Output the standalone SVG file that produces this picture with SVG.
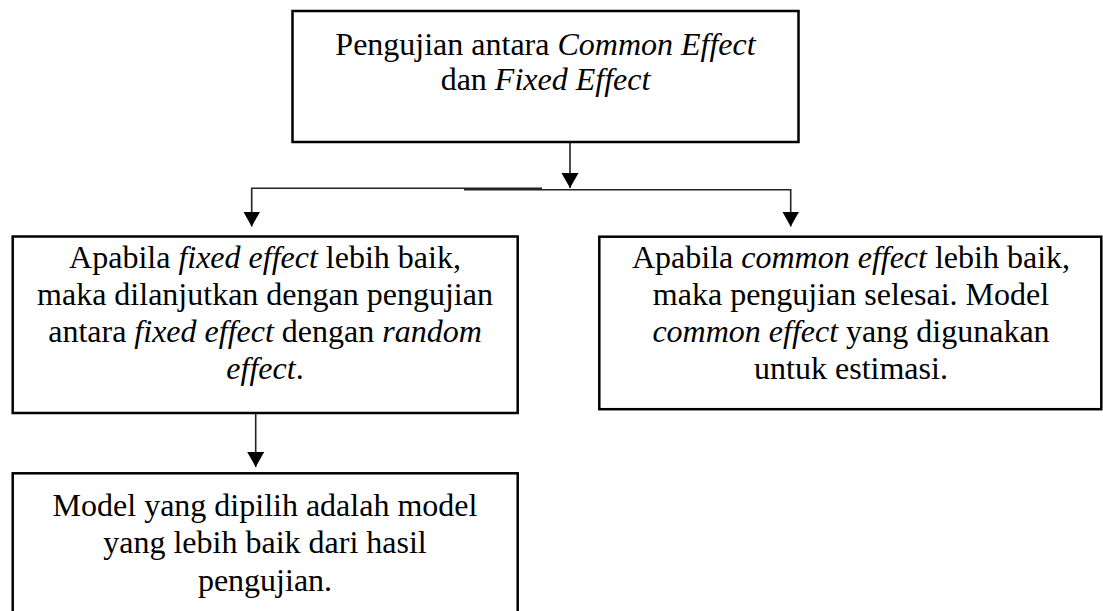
<svg xmlns="http://www.w3.org/2000/svg" width="1103" height="611" viewBox="0 0 1103 611">
<style>
.box{fill:#fff;stroke:#000;stroke-width:2.5}
.t{font-family:"Liberation Serif","Times New Roman",serif;font-size:32px;fill:#000;text-anchor:middle}
.i{font-style:italic}
.c{fill:none;stroke:#222;stroke-width:1.6}
</style>
<defs>
<marker id="ah" markerUnits="userSpaceOnUse" markerWidth="16" markerHeight="18" refX="15" refY="8.5" orient="auto">
<path d="M0,0 L15,8.5 L0,17 z" fill="#000"/>
</marker>
</defs>
<rect width="1103" height="611" fill="#fff"/>
<g id="connectors">
<path class="c" d="M570,142 V188" marker-end="url(#ah)"/>
<path class="c" d="M542,188.3 H251.7 V226.5" marker-end="url(#ah)"/>
<path class="c" d="M464,189.7 H790.7 V226.5" marker-end="url(#ah)"/>
<path class="c" d="M255.7,413 V467" marker-end="url(#ah)"/>
</g>
<g id="node-top">
<rect class="box" x="292.5" y="11" width="506" height="131"/>
<text class="t" x="545.5" y="55">Pengujian antara<tspan class="i"> Common Effect</tspan></text>
<text class="t" x="545.5" y="90">dan<tspan class="i"> Fixed Effect</tspan></text>
</g>
<g id="node-fixed">
<rect class="box" x="12.7" y="236.5" width="505" height="176.5"/>
<text class="t" x="265" y="268">Apabila<tspan class="i"> fixed effect </tspan>lebih baik,</text>
<text class="t" x="265" y="305">maka dilanjutkan dengan pengujian</text>
<text class="t" x="265" y="342">antara<tspan class="i"> fixed effect </tspan>dengan<tspan class="i"> random</tspan></text>
<text class="t" x="265" y="379"><tspan class="i">effect</tspan>.</text>
</g>
<g id="node-common">
<rect class="box" x="599.3" y="236.7" width="502" height="172.5"/>
<text class="t" x="851" y="268">Apabila<tspan class="i"> common effect </tspan>lebih baik,</text>
<text class="t" x="851" y="305">maka pengujian selesai. Model</text>
<text class="t" x="851" y="342"><tspan class="i">common effect </tspan>yang digunakan</text>
<text class="t" x="851" y="379">untuk estimasi.</text>
</g>
<g id="node-result">
<rect class="box" x="12.7" y="473.3" width="505" height="150"/>
<text class="t" x="265" y="516">Model yang dipilih adalah model</text>
<text class="t" x="265" y="553.3">yang lebih baik dari hasil</text>
<text class="t" x="265" y="590.7">pengujian.</text>
</g>
</svg>
